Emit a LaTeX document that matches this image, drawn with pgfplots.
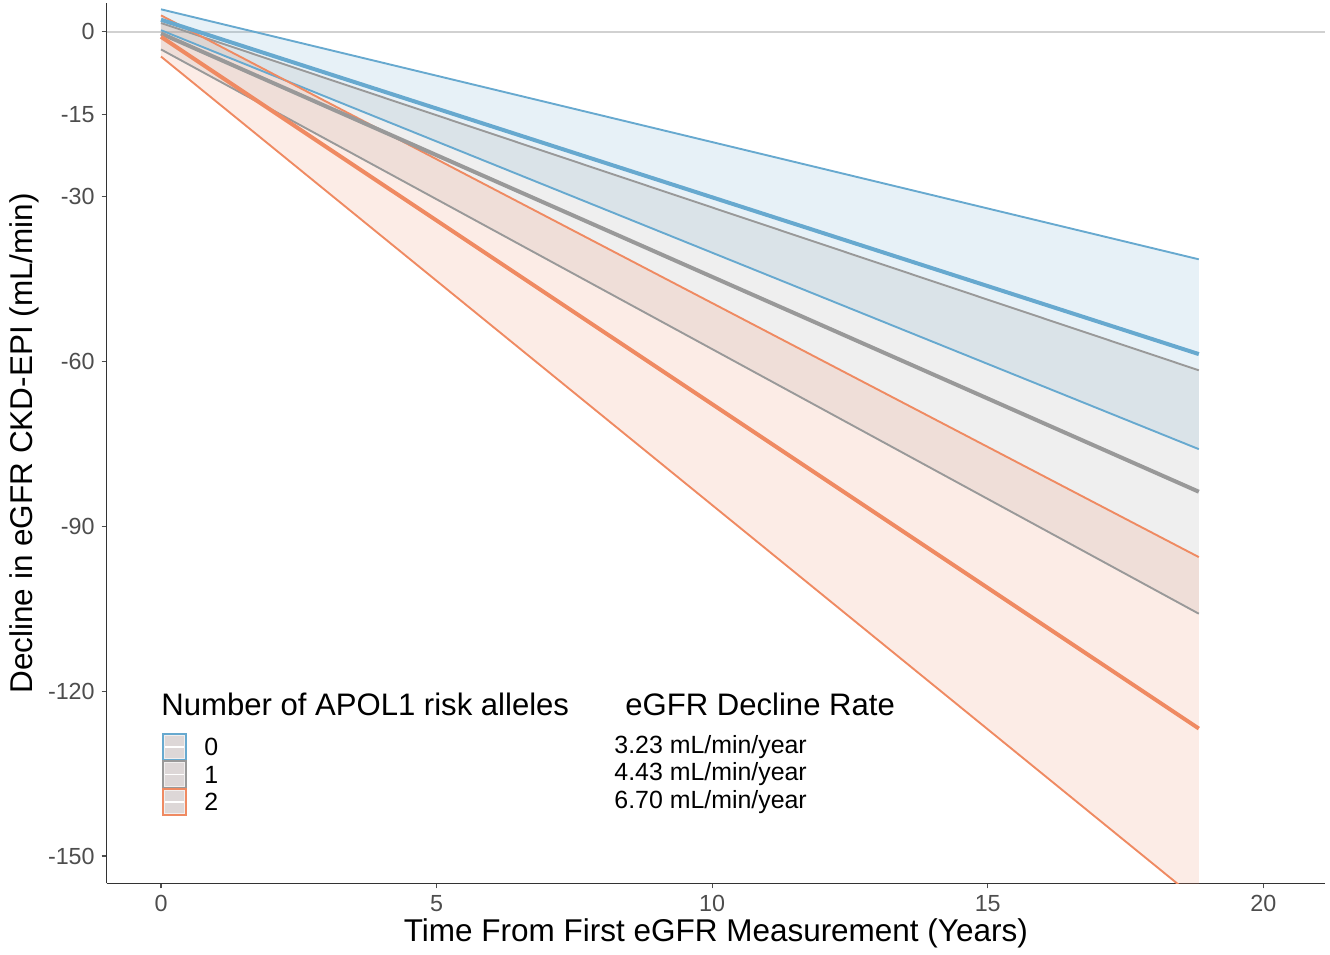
\documentclass[border=0pt]{standalone}
\usepackage{pgfplots}
\usepackage{pgfplotstable}
\pgfplotsset{compat=1.18}
\usepgfplotslibrary{fillbetween}
\usepackage{fontspec}
\setmainfont{Liberation Sans}
\definecolor{cblue}{HTML}{67A9CF}
\definecolor{cgray}{HTML}{999999}
\definecolor{corange}{HTML}{EF8A62}
\definecolor{keyfill}{RGB}{221,215,215}
\definecolor{axcol}{RGB}{51,51,51}
\definecolor{tickcol}{RGB}{77,77,77}

% group 0 risk alleles
\pgfplotstableread{
x hi mean lo
0 4.1 2.2 0.3
18.83 -41.4 -58.65 -75.95
}\tabB
% group 1 risk allele
\pgfplotstableread{
x hi mean lo
0 1.6 -0.3 -3.2
18.83 -61.6 -83.7 -105.9
}\tabG
% group 2 risk alleles
\pgfplotstableread{
x hi mean lo
0 3.0 -0.9 -4.5
18.83 -95.6 -126.8 -158.2
}\tabO

\begin{document}
\begin{tikzpicture}[x=1bp,y=1bp]
\path (0,0) rectangle (665,477.5);
\begin{axis}[
  at={(53.35bp,35.75bp)}, anchor=south west,
  scale only axis, width=609.15bp, height=440.1bp,
  xmin=-0.985, xmax=21.12, ymin=-155, ymax=5.2,
  axis x line*=bottom, axis y line*=left,
  axis line style={axcol, line width=0.75bp},
  xtick={0,5,10,15,20},
  ytick={0,-15,-30,-60,-90,-120,-150},
  extra y ticks={0}, extra y tick labels={},
  extra y tick style={grid=major, major grid style={black!18, line width=1bp}, major tick length=0pt},
  tick align=outside, major tick length=2.5bp,
  tick style={tickcol, line width=0.6bp},
  /pgf/number format/assume math mode=true,
  ticklabel style={font=\fontsize{11.7}{14}\selectfont, text=tickcol},
  xlabel={Time From First eGFR Measurement (Years)},
  ylabel={Decline in eGFR CKD-EPI (mL/min)},
  label style={font=\fontsize{15.8}{18}\selectfont},
  xlabel style={at={(axis description cs:0.5,-0.0562)}, anchor=center},
  ylabel style={at={(axis description cs:-0.0679,0.5)}, anchor=center},
  clip=true,
]
% ribbons
\addplot[draw=none, name path=bhi, forget plot] table[x=x,y=hi]{\tabB};
\addplot[draw=none, name path=blo, forget plot] table[x=x,y=lo]{\tabB};
\addplot[draw=none, name path=ghi, forget plot] table[x=x,y=hi]{\tabG};
\addplot[draw=none, name path=glo, forget plot] table[x=x,y=lo]{\tabG};
\addplot[draw=none, name path=ohi, forget plot] table[x=x,y=hi]{\tabO};
\addplot[draw=none, name path=olo, forget plot] table[x=x,y=lo]{\tabO};
\addplot[fill=cblue, fill opacity=0.16, draw=none] fill between[of=bhi and blo];
\addplot[fill=cgray, fill opacity=0.16, draw=none] fill between[of=ghi and glo];
\addplot[fill=corange, fill opacity=0.16, draw=none] fill between[of=ohi and olo];
% bounds
\addplot[cblue, line width=0.95bp] table[x=x,y=hi]{\tabB};
\addplot[cblue, line width=0.95bp] table[x=x,y=lo]{\tabB};
\addplot[cgray, line width=0.95bp] table[x=x,y=hi]{\tabG};
\addplot[cgray, line width=0.95bp] table[x=x,y=lo]{\tabG};
\addplot[corange, line width=0.95bp] table[x=x,y=hi]{\tabO};
\addplot[corange, line width=0.95bp] table[x=x,y=lo]{\tabO};
% means
\addplot[cblue, line width=2bp] table[x=x,y=mean]{\tabB};
\addplot[cgray, line width=2bp] table[x=x,y=mean]{\tabG};
\addplot[corange, line width=2bp] table[x=x,y=mean]{\tabO};
\end{axis}
% legend
\node[anchor=west, inner sep=0pt, font=\fontsize{15.6}{18}\selectfont] at (80.5,125.5) {Number of APOL1 risk alleles};
\node[anchor=west, inner sep=0pt, font=\fontsize{15.6}{18}\selectfont] at (312.5,125.5) {eGFR Decline Rate};
\foreach \c/\yb/\lab/\rate in {cblue/97.4/0/3.23, cgray/83.65/1/4.43, corange/69.9/2/6.70}{
  \fill[keyfill] (81.25,\yb) rectangle (93,\yb+13.25);
  \draw[white, line width=0.9bp] (81.6,\yb+6.6) -- (92.6,\yb+6.6);
  \draw[white!60!keyfill, line width=0.4bp] (82.1,\yb+0.85) rectangle (92.15,\yb+12.4);
  \draw[\c, line width=1bp] (81.25,\yb) rectangle (93,\yb+13.25);
  \node[anchor=west, inner sep=0pt, font=\fontsize{12.5}{15}\selectfont] at (102,\yb+6.6) {\lab};
  \node[anchor=west, inner sep=0pt, font=\fontsize{12.5}{15}\selectfont] at (307,\yb+6.6) {\rate\ mL/min/year};
}
\end{tikzpicture}
\end{document}
